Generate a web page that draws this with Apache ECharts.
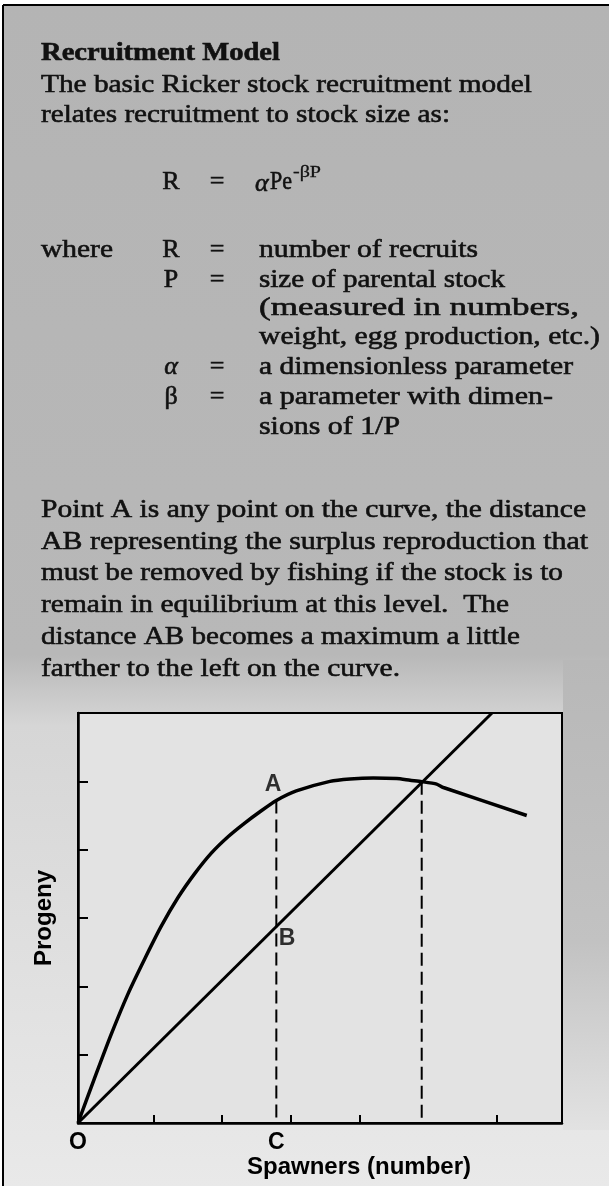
<!DOCTYPE html>
<html>
<head>
<meta charset="utf-8">
<title>Recruitment Model</title>
<script src="https://cdn.jsdelivr.net/npm/echarts@6/dist/echarts.min.js"></script>
<style>
html, body { margin: 0; padding: 0; background: #fff; }
#chart { width: 609px; height: 1186px; }
</style>
</head>
<body>
<div id="chart"></div>
<script>
// Ricker curve: [spawners, progeny]
var rickerCurve = [
    [0, 0], [0.243, 0.66], [0.485, 1.30], [0.729, 1.89], [0.972, 2.40],
    [1.214, 2.88], [1.458, 3.30], [1.701, 3.65], [1.943, 3.95], [2.187, 4.19],
    [2.43, 4.39], [2.672, 4.57], [2.891, 4.72], [3.182, 4.86], [3.673, 5.0],
    [3.965, 5.035], [4.305, 5.05], [4.645, 5.04], [4.84, 5.015], [5.01, 4.995],
    [5.228, 4.96], [5.325, 4.91], [6.541, 4.50]
];
// replacement line (progeny = spawners)
var replacementLine = [[0, 0], [6.035, 6]];
var pointC = 2.891;       // spawners at A / B / C
var pointA = 4.72;        // curve height at C
var pointB = 2.874;       // line height at C
var equilibrium = [5.01, 4.995];
var xTicks = [1.1, 2.1, 3.1, 4.1, 6.1];
var yTicks = [1, 2, 3, 4, 5];
var xTickLabels = [[0, 'O'], [2.891, 'C']];

var headingText = 'Recruitment Model';
var introLines = ['The basic Ricker stock recruitment model', 'relates recruitment to stock size as:'];
var defSymbols = ['R', 'P', '', '', 'α', 'β', ''];
var defTexts = ['number of recruits', 'size of parental stock', '(measured in numbers,',
    'weight, egg production, etc.)', 'a dimensionless parameter', 'a parameter with dimen-', 'sions of 1/P'];
var noteLines = [
    'Point A is any point on the curve, the distance',
    'AB representing the surplus reproduction that',
    'must be removed by fishing if the stock is to',
    'remain in equilibrium at this level.  The',
    'distance AB becomes a maximum a little',
    'farther to the left on the curve.'
];

var SERIF = '"Liberation Serif", "DejaVu Serif", serif';
var SANS = '"Liberation Sans", Arial, sans-serif';
var measureCtx = document.createElement('canvas').getContext('2d');

// text element; if end is given the line is stretched to reach it
function txt(text, x, y, font, end, extra) {
    var el = {
        type: 'text', x: x, y: y, z: 10,
        style: {
            text: text, font: font, fill: '#111', verticalAlign: 'middle', align: 'left',
            stroke: '#111', lineWidth: 0.6
        }
    };
    if (end) {
        measureCtx.font = font;
        var w = measureCtx.measureText(text).width;
        el.scaleX = (end - x) / w;
    }
    if (extra) {
        for (var k in extra) el.style[k] = extra[k];
    }
    return el;
}

var bodyFont = '26px ' + SERIF;
var graphics = [];

// background tones of the halftone panel
graphics.push({
    type: 'rect', z: -5, shape: { x: 3, y: 5, width: 606, height: 1181 },
    style: {
        fill: new echarts.graphic.LinearGradient(0, 0, 0, 1, [
            { offset: 0, color: '#b4b4b4' },
            { offset: 0.55, color: '#b8b8b8' },
            { offset: 0.61, color: '#d6d6d6' },
            { offset: 1, color: '#e9e9e9' }
        ])
    }
});
graphics.push({
    type: 'rect', z: -4, shape: { x: 563, y: 660, width: 46, height: 470 },
    style: {
        fill: new echarts.graphic.LinearGradient(0, 0, 0, 1, [
            { offset: 0, color: '#b8b8b8' },
            { offset: 0.6, color: '#c2c2c2' },
            { offset: 1, color: '#e2e2e2' }
        ])
    }
});
// panel frame
graphics.push({ type: 'line', z: 5, shape: { x1: 3, y1: 5, x2: 609, y2: 5 }, style: { stroke: '#000', lineWidth: 2 } });
graphics.push({ type: 'line', z: 5, shape: { x1: 3, y1: 5, x2: 3, y2: 1186 }, style: { stroke: '#000', lineWidth: 2 } });

graphics.push(txt(headingText, 41, 53, 'bold 26px ' + SERIF, 280));
graphics.push(txt(introLines[0], 41, 85, bodyFont, 532));
graphics.push(txt(introLines[1], 41, 115, bodyFont, 450));

// formula R = aPe^-bP
graphics.push(txt('R', 171, 182, bodyFont, null, { align: 'center' }));
graphics.push(txt('=', 217, 182, bodyFont, null, { align: 'center' }));
graphics.push(txt('α', 255, 184, 'italic 26px ' + SERIF));
graphics.push(txt('Pe', 270, 182, bodyFont, 292));
graphics.push(txt('-βP', 293, 173, '16px ' + SERIF, 321, { lineWidth: 0.3 }));

// definitions
var defY = [250, 280, 308, 337, 367, 397, 427];
var defEnd = [478, 505, 579, 600, 573, 553, 400];
graphics.push(txt('where', 41, 250, bodyFont, 113));
defTexts.forEach(function (t, i) {
    if (defSymbols[i]) {
        var f = defSymbols[i] === 'α' ? 'italic 26px ' + SERIF : bodyFont;
        graphics.push(txt(defSymbols[i], 171, defY[i], f, null, { align: 'center' }));
        graphics.push(txt('=', 217, defY[i], bodyFont, null, { align: 'center' }));
    }
    graphics.push(txt(t, 259, defY[i], bodyFont, defEnd[i]));
});

// note paragraph
var noteEnd = [586, 588, 563, 509, 520, 400];
noteLines.forEach(function (t, i) {
    graphics.push(txt(t, 41, 510 + i * 31.8, bodyFont, noteEnd[i]));
});

var chart = echarts.init(document.getElementById('chart'), null, { renderer: 'canvas' });

var option = {
    animation: false,
    backgroundColor: '#ffffff',
    graphic: graphics,
    grid: {
        left: 78, top: 713, width: 484, height: 410,
        show: true, backgroundColor: '#e3e3e3',
        borderColor: '#000', borderWidth: 2
    },
    xAxis: {
        type: 'value', min: 0, max: 7.055,
        name: 'Spawners (number)', nameLocation: 'middle', nameGap: 25,
        nameTextStyle: { fontFamily: SANS, fontWeight: 'bold', fontSize: 24, color: '#000', padding: [0, 0, 0, 78] },
        axisLine: { show: true, lineStyle: { color: '#000', width: 2.5 } },
        axisTick: { show: true, inside: true, length: 8, customValues: xTicks, lineStyle: { color: '#000', width: 2 } },
        axisLabel: {
            show: true, margin: 8, customValues: xTickLabels.map(function (d) { return d[0]; }),
            fontFamily: SANS, fontWeight: 'bold', fontSize: 23, color: '#000',
            formatter: function (v) {
                var best = xTickLabels[0];
                xTickLabels.forEach(function (d) { if (Math.abs(d[0] - v) < Math.abs(best[0] - v)) best = d; });
                return best[1];
            }
        },
        splitLine: { show: false }
    },
    yAxis: {
        type: 'value', min: 0, max: 6, interval: 1,
        name: 'Progeny', nameLocation: 'middle', nameGap: 22, nameRotate: 90,
        nameTextStyle: { fontFamily: SANS, fontWeight: 'bold', fontSize: 24, color: '#000' },
        axisLine: { show: true, lineStyle: { color: '#000', width: 2.5 } },
        axisTick: { show: true, inside: true, length: 10, customValues: yTicks, lineStyle: { color: '#000', width: 2 } },
        axisLabel: { show: false },
        splitLine: { show: false }
    },
    series: [
        {
            name: 'Ricker curve', type: 'line', data: rickerCurve, smooth: 0.2,
            symbol: 'none', lineStyle: { color: '#000', width: 3.5 }, z: 4
        },
        {
            name: 'Replacement', type: 'line', data: replacementLine,
            symbol: 'none', lineStyle: { color: '#000', width: 3 }, z: 4
        },
        {
            name: 'AC', type: 'line', data: [[pointC, pointA], [pointC, 0]],
            symbol: 'none', lineStyle: { color: '#000', width: 2, type: [13, 6] }, z: 3
        },
        {
            name: 'Equilibrium', type: 'line', data: [equilibrium, [equilibrium[0], 0]],
            symbol: 'none', lineStyle: { color: '#000', width: 2, type: [13, 6] }, z: 3
        },
        {
            name: 'points', type: 'scatter', symbolSize: 1,
            itemStyle: { color: 'transparent' }, z: 5,
            data: [
                { value: [pointC, pointA], name: 'A', label: { position: [-11, -27] } },
                { value: [pointC, pointB], name: 'B', label: { position: [3, 1] } }
            ],
            label: {
                show: true, formatter: '{b}', fontFamily: SANS, fontWeight: 'bold',
                fontSize: 23, color: '#000'
            }
        }
    ]
};

chart.setOption(option);
</script>
</body>
</html>
